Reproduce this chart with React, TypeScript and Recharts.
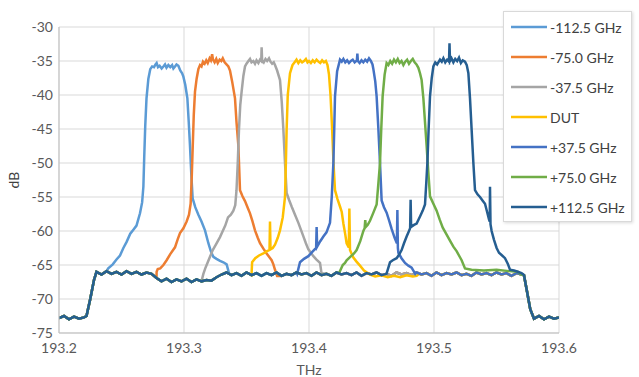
import { CartesianGrid, Label, Line, LineChart, XAxis, YAxis } from 'recharts';

type Pt = [number, number];

// shared noise floor of the OSA traces (THz, dB)
const baseline: Pt[] = [
  [193.2, -72.8], [193.204, -72.5], [193.208, -73.0], [193.212, -72.6], [193.216, -72.9],
  [193.22, -72.7], [193.222, -72.5], [193.225, -70.0], [193.228, -67.2], [193.23, -66.0],
  [193.234, -66.4], [193.238, -65.9], [193.242, -66.3], [193.246, -66.0], [193.25, -66.4],
  [193.254, -65.9], [193.258, -66.3], [193.262, -66.0], [193.266, -66.4], [193.27, -66.1],
  [193.274, -66.3], [193.278, -66.9], [193.282, -67.4], [193.286, -67.0], [193.29, -67.5],
  [193.294, -67.1], [193.298, -67.4], [193.302, -67.0], [193.306, -67.5], [193.31, -67.1],
  [193.314, -67.4], [193.318, -67.2], [193.322, -67.3], [193.326, -66.8], [193.33, -66.4],
  [193.334, -66.1], [193.338, -66.5], [193.342, -66.2], [193.346, -66.6], [193.35, -66.1],
  [193.354, -66.5], [193.358, -66.2], [193.362, -66.6], [193.366, -66.2], [193.37, -66.5],
  [193.374, -66.1], [193.378, -66.6], [193.382, -66.3], [193.386, -66.5], [193.39, -66.1],
  [193.394, -66.4], [193.398, -66.2], [193.402, -66.6], [193.406, -66.1], [193.41, -66.5],
  [193.414, -66.3], [193.418, -66.6], [193.422, -66.1], [193.426, -66.4], [193.43, -66.2],
  [193.434, -66.5], [193.438, -66.1], [193.442, -66.6], [193.446, -66.2], [193.45, -66.4],
  [193.454, -66.1], [193.458, -66.5], [193.462, -66.3], [193.466, -66.6], [193.47, -66.1],
  [193.474, -66.4], [193.478, -66.2], [193.482, -66.5], [193.486, -66.1], [193.49, -66.4],
  [193.494, -66.2], [193.498, -66.6], [193.502, -66.1], [193.506, -66.5], [193.51, -66.2],
  [193.514, -66.4], [193.518, -66.1], [193.522, -66.5], [193.526, -66.3], [193.53, -66.6],
  [193.534, -66.1], [193.538, -66.4], [193.542, -66.2], [193.546, -66.5], [193.55, -66.1],
  [193.554, -66.4], [193.558, -66.2], [193.562, -66.6], [193.566, -66.2], [193.57, -66.4],
  [193.572, -66.5], [193.574, -68.5], [193.577, -71.5], [193.58, -72.9], [193.584, -72.5],
  [193.588, -73.0], [193.592, -72.6], [193.596, -72.9], [193.6, -72.7],
];

const peakM1125: Pt[] = [
  [193.2394, -65.5], [193.243, -64.9], [193.246, -64.2], [193.2488, -63.6], [193.2515, -62.5],
  [193.2541, -61.6], [193.257, -60.4], [193.2595, -59.8], [193.262, -59.2], [193.2648, -57.4],
  [193.2665, -55.8], [193.2675, -53.5], [193.2682, -49.0], [193.269, -44.5], [193.27, -40.5],
  [193.2715, -37.6], [193.273, -36.2], [193.2745, -35.8], [193.276, -35.9], [193.2772, -35.5],
  [193.2781, -35.3], [193.2792, -35.9], [193.2805, -35.7], [193.2821, -36.1], [193.2835, -35.8],
  [193.2848, -35.5], [193.286, -36.0], [193.2875, -35.6], [193.289, -35.9], [193.2905, -35.6],
  [193.2915, -36.1], [193.2928, -35.8], [193.294, -35.5], [193.2955, -35.7], [193.297, -36.4],
  [193.2985, -36.8], [193.2995, -37.3], [193.301, -38.5], [193.3027, -40.5], [193.3038, -44.0],
  [193.3048, -47.5], [193.3058, -51.5], [193.3069, -55.2], [193.309, -56.5], [193.3115, -57.6],
  [193.314, -58.6], [193.3168, -59.9], [193.3195, -61.8], [193.3215, -63.0], [193.3235, -63.8],
  [193.326, -64.1], [193.3288, -64.4], [193.3315, -64.6], [193.3341, -64.9], [193.336, -66.2],
];

const peakM750: Pt[] = [
  [193.2781, -66.0], [193.279, -65.6], [193.281, -65.5], [193.2835, -65.0], [193.2861, -64.3],
  [193.289, -63.4], [193.2928, -62.4], [193.295, -61.2], [193.2968, -60.3], [193.2995, -59.6],
  [193.3021, -58.6], [193.304, -57.6], [193.3053, -56.0], [193.3062, -52.0], [193.307, -47.5],
  [193.3078, -43.0], [193.3088, -39.5], [193.3101, -37.6], [193.3115, -36.2], [193.3128, -35.6],
  [193.314, -35.8], [193.3152, -35.1], [193.3165, -35.4], [193.3178, -34.9], [193.319, -35.3],
  [193.3205, -34.6], [193.3215, -34.9], [193.3225, -34.0], [193.3232, -34.8], [193.3245, -35.2],
  [193.3258, -34.7], [193.327, -35.3], [193.3285, -34.8], [193.3298, -35.0], [193.331, -34.6],
  [193.3325, -35.2], [193.334, -35.5], [193.3355, -35.8], [193.3368, -36.4], [193.3385, -38.0],
  [193.3408, -40.5], [193.342, -44.0], [193.3435, -47.5], [193.3442, -51.0], [193.3448, -54.0],
  [193.3468, -54.9], [193.3488, -55.6], [193.3508, -56.5], [193.3528, -57.4], [193.3548, -58.6],
  [193.3568, -59.9], [193.359, -61.0], [193.3608, -61.8], [193.3635, -62.6], [193.3661, -63.3],
  [193.3685, -63.9], [193.3701, -64.3], [193.3715, -64.9], [193.3728, -65.7], [193.3745, -66.6],
];

const peakM375: Pt[] = [
  [193.3155, -66.3], [193.317, -65.5], [193.319, -64.6], [193.3208, -63.8], [193.323, -62.8],
  [193.3255, -62.0], [193.3288, -60.9], [193.331, -60.0], [193.333, -59.2], [193.3352, -58.0],
  [193.3375, -57.6], [193.3395, -57.0], [193.341, -56.2], [193.342, -54.0], [193.343, -50.0],
  [193.344, -45.0], [193.345, -41.5], [193.3461, -39.5], [193.3475, -37.2], [193.3488, -35.8],
  [193.35, -35.4], [193.3515, -35.0], [193.3528, -34.7], [193.354, -35.2], [193.3555, -35.0],
  [193.3568, -35.4], [193.358, -34.9], [193.3595, -35.3], [193.3608, -34.8], [193.3618, -35.0],
  [193.3621, -33.0], [193.3625, -34.9], [193.3638, -35.2], [193.3652, -34.7], [193.3665, -35.0],
  [193.368, -34.6], [193.3692, -35.1], [193.3705, -35.4], [193.3718, -35.2], [193.3728, -35.6],
  [193.3745, -36.4], [193.3768, -37.8], [193.3782, -41.0], [193.3795, -45.1], [193.3808, -50.0],
  [193.3821, -54.4], [193.384, -55.4], [193.3861, -56.4], [193.3888, -57.6], [193.3915, -58.8],
  [193.3935, -59.8], [193.3955, -60.8], [193.3975, -61.8], [193.3995, -62.7], [193.4015, -63.2],
  [193.4035, -63.7], [193.406, -64.2], [193.4088, -64.7], [193.41, -66.2],
];

const peakDut: Pt[] = [
  [193.3541, -66.1], [193.3545, -64.6], [193.357, -64.0], [193.36, -63.6], [193.3635, -63.3],
  [193.366, -63.0], [193.3684, -62.8], [193.3688, -58.6], [193.3692, -62.7], [193.371, -62.5],
  [193.3728, -62.0], [193.375, -61.0], [193.3768, -59.9], [193.379, -58.0], [193.3808, -55.0],
  [193.3815, -50.0], [193.3821, -45.1], [193.383, -40.0], [193.3848, -36.8], [193.3868, -35.6],
  [193.3888, -35.1], [193.39, -34.8], [193.3915, -35.3], [193.393, -34.9], [193.3945, -35.2],
  [193.396, -35.0], [193.3975, -34.7], [193.3988, -35.2], [193.4, -35.0], [193.4015, -35.3],
  [193.403, -34.9], [193.4045, -35.2], [193.406, -34.8], [193.4075, -35.1], [193.409, -35.3],
  [193.4105, -34.9], [193.412, -35.2], [193.4135, -35.0], [193.4148, -35.6], [193.416, -37.0],
  [193.4172, -40.0], [193.4185, -45.0], [193.4196, -50.0], [193.4208, -54.0], [193.4228, -55.3],
  [193.4248, -56.4], [193.4262, -57.2], [193.4275, -58.9], [193.429, -60.5], [193.4301, -61.8],
  [193.4318, -62.4], [193.4323, -56.7], [193.4328, -62.8], [193.434, -63.3], [193.4355, -63.9],
  [193.438, -64.5], [193.4408, -65.1], [193.444, -65.8], [193.4488, -66.4], [193.453, -66.7],
  [193.458, -66.5], [193.463, -66.8], [193.468, -66.6], [193.473, -66.8], [193.478, -66.5],
  [193.483, -66.7], [193.4861, -66.6], [193.488, -66.3],
];

const peakP375: Pt[] = [
  [193.3905, -66.3], [193.3928, -64.6], [193.396, -64.1], [193.3995, -63.7], [193.403, -63.0],
  [193.4057, -62.5], [193.4061, -59.4], [193.4065, -62.3], [193.409, -61.5], [193.4115, -60.8],
  [193.414, -60.2], [193.4168, -58.8], [193.4182, -55.0], [193.4195, -50.0], [193.4202, -45.0],
  [193.4208, -40.2], [193.4225, -36.5], [193.4248, -34.8], [193.4262, -35.1], [193.4275, -34.7],
  [193.429, -35.2], [193.4305, -34.9], [193.432, -35.3], [193.4335, -35.0], [193.435, -34.8],
  [193.4365, -35.2], [193.4383, -34.9], [193.4387, -33.9], [193.4391, -35.0], [193.4405, -35.3],
  [193.442, -34.9], [193.4435, -35.2], [193.445, -34.8], [193.4465, -35.1], [193.448, -34.6],
  [193.4495, -35.0], [193.4508, -35.5], [193.4515, -36.2], [193.453, -38.0], [193.4541, -40.2],
  [193.4555, -45.0], [193.4568, -50.0], [193.4581, -55.5], [193.46, -56.5], [193.4621, -57.3],
  [193.464, -58.4], [193.4661, -59.7], [193.4685, -61.0], [193.4703, -61.8], [193.4707, -56.9],
  [193.4711, -62.5], [193.4715, -63.2], [193.474, -64.0], [193.4768, -64.7], [193.4795, -65.1],
  [193.4821, -65.4], [193.485, -66.3],
];

const peakP750: Pt[] = [
  [193.424, -66.2], [193.427, -65.0], [193.4288, -64.7], [193.4301, -64.3], [193.433, -63.8],
  [193.436, -63.3], [193.4381, -62.8], [193.441, -61.5], [193.4435, -60.0], [193.4445, -59.6],
  [193.445, -58.4], [193.4455, -59.4], [193.447, -59.1], [193.4488, -58.5], [193.4515, -57.3],
  [193.4541, -56.1], [193.4555, -53.0], [193.4568, -50.0], [193.4578, -45.0], [193.4589, -40.2],
  [193.4605, -37.0], [193.4621, -35.3], [193.4635, -35.6], [193.465, -35.0], [193.4665, -35.4],
  [193.468, -34.8], [193.4695, -35.2], [193.471, -34.7], [193.4725, -35.3], [193.474, -35.0],
  [193.4755, -35.6], [193.477, -35.1], [193.4785, -34.8], [193.48, -35.4], [193.4815, -35.0],
  [193.483, -34.7], [193.4845, -35.2], [193.486, -35.5], [193.4875, -36.0], [193.4888, -36.8],
  [193.4901, -37.8], [193.4915, -40.5], [193.4928, -44.0], [193.4941, -47.5], [193.4955, -51.5],
  [193.4968, -54.9], [193.4995, -56.0], [193.5021, -57.0], [193.5045, -58.3], [193.507, -59.5],
  [193.51, -60.5], [193.513, -61.5], [193.5155, -62.3], [193.5182, -63.0], [193.52, -63.6],
  [193.5221, -64.3], [193.5248, -65.5], [193.53, -65.7], [193.54, -65.8], [193.55, -65.7],
  [193.56, -65.9], [193.567, -66.0],
];

const peakP1125: Pt[] = [
  [193.462, -66.3], [193.4648, -64.6], [193.467, -64.3], [193.4701, -64.0], [193.472, -63.5],
  [193.4741, -62.8], [193.476, -61.8], [193.4781, -60.8], [193.48, -60.0], [193.4809, -59.6],
  [193.4813, -55.4], [193.4817, -59.4], [193.484, -59.1], [193.4861, -58.9], [193.489, -57.8],
  [193.491, -57.0], [193.4928, -56.1], [193.4938, -53.0], [193.4947, -50.0], [193.4957, -45.0],
  [193.4968, -40.2], [193.4982, -37.5], [193.4995, -35.8], [193.501, -35.2], [193.5025, -35.5],
  [193.5048, -34.8], [193.5062, -35.1], [193.5075, -34.6], [193.509, -35.2], [193.5105, -34.8],
  [193.512, -35.1], [193.5124, -32.4], [193.5128, -35.0], [193.514, -34.6], [193.5155, -35.2],
  [193.517, -34.7], [193.5185, -35.0], [193.52, -34.5], [193.5215, -35.3], [193.523, -34.9],
  [193.5248, -35.1], [193.5262, -35.6], [193.5275, -36.8], [193.5288, -40.5], [193.5301, -45.1],
  [193.5315, -50.0], [193.5328, -54.0], [193.5348, -54.6], [193.5368, -55.0], [193.5388, -55.5],
  [193.5408, -56.0], [193.5425, -57.2], [193.544, -58.3], [193.5446, -58.6], [193.5448, -53.5],
  [193.5452, -59.0], [193.5461, -60.0], [193.548, -61.3], [193.5501, -62.5], [193.552, -63.2],
  [193.5545, -63.6], [193.5568, -64.0], [193.559, -64.8], [193.5608, -65.7], [193.564, -65.8],
  [193.567, -66.0], [193.57, -66.2], [193.5715, -66.4],
];

const seriesNames = ['-112.5 GHz', '-75.0 GHz', '-37.5 GHz', 'DUT', '+37.5 GHz', '+75.0 GHz', '+112.5 GHz'];
const seriesPeaks = [peakM1125, peakM750, peakM375, peakDut, peakP375, peakP750, peakP1125];
const seriesColors = ['#5B9BD5', '#ED7D31', '#A5A5A5', '#FFC000', '#4472C4', '#70AD47', '#255E91'];

const xTicks = [193.2, 193.3, 193.4, 193.5, 193.6];
const yTicks = [-75, -70, -65, -60, -55, -50, -45, -40, -35, -30];

const font = 'Lato, "Open Sans", sans-serif';

function buildSeries(peak: Pt[]) {
  const lo = peak[0][0];
  const hi = peak[peak.length - 1][0];
  return [
    ...baseline.filter(([x]) => x < lo),
    ...peak,
    ...baseline.filter(([x]) => x > hi),
  ].map(([x, y]) => ({ x, y }));
}

const series = seriesNames.map((name, i) => ({
  name,
  color: seriesColors[i],
  data: buildSeries(seriesPeaks[i]),
}));

function LegendBox() {
  return (
    <div
      style={{
        position: 'absolute',
        left: 503,
        top: 11,
        background: '#fff',
        border: '1px solid #d9d9d9',
        boxShadow: '1px 1px 3px rgba(0,0,0,0.15)',
        boxSizing: 'border-box',
        width: 129,
        height: 211,
        padding: '0 0 0 7px',
        fontFamily: font,
        fontSize: 14,
        color: '#404040',
      }}
    >
      {series.map((s) => (
        <div key={s.name} style={{ display: 'flex', alignItems: 'center', height: 30 }}>
          <svg width={36} height={6} style={{ marginRight: 3 }}>
            <line x1={0} y1={3} x2={36} y2={3} stroke={s.color} strokeWidth={2.5} />
          </svg>
          <span>{s.name}</span>
        </div>
      ))}
    </div>
  );
}

export default function App() {
  return (
    <div style={{ position: 'absolute', left: 0, top: 0, width: 639, height: 377, background: '#fff' }}>
      <LineChart width={639} height={377} margin={{ top: 27, right: 80, bottom: 4, left: 14 }}>
        <CartesianGrid stroke="#d9d9d9" strokeWidth={1} />
        <XAxis
          dataKey="x"
          type="number"
          domain={[193.2, 193.6]}
          ticks={xTicks}
          allowDataOverflow
          tickFormatter={(v: number) => v.toFixed(1)}
          height={40}
          stroke="#bfbfbf"
          tickLine={false}
          tickMargin={4}
          tick={{ fill: '#595959', fontSize: 14, fontFamily: font }}
        >
          <Label value="THz" position="insideBottom" offset={-2} style={{ fill: '#595959', fontSize: 14, fontFamily: font }} />
        </XAxis>
        <YAxis
          type="number"
          domain={[-75, -30]}
          ticks={yTicks}
          allowDataOverflow
          width={45}
          stroke="#bfbfbf"
          tickLine={false}
          tickMargin={0}
          tick={{ fill: '#595959', fontSize: 14, fontFamily: font }}
        >
          <Label value="dB" angle={-90} position="insideLeft" offset={0} style={{ fill: '#404040', fontSize: 14, fontFamily: font, textAnchor: 'middle' }} />
        </YAxis>
        {series.map((s) => (
          <Line
            key={s.name}
            data={s.data}
            dataKey="y"
            name={s.name}
            type="linear"
            stroke={s.color}
            strokeWidth={2.5}
            dot={false}
            activeDot={false}
            isAnimationActive={false}
          />
        ))}
      </LineChart>
      <LegendBox />
    </div>
  );
}
